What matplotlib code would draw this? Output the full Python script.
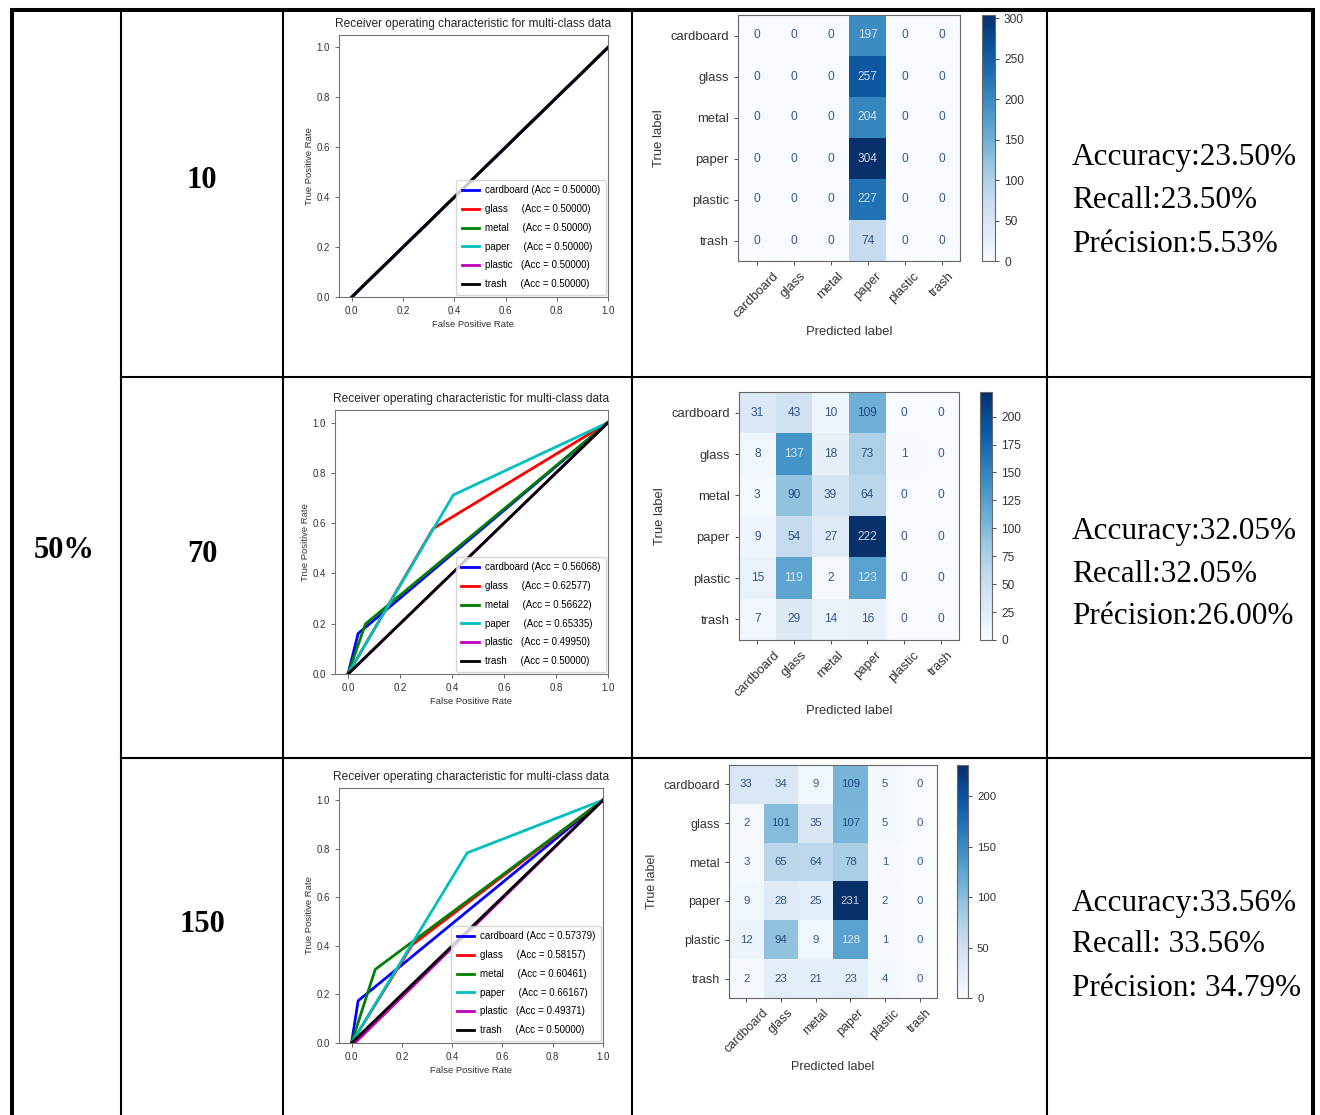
import matplotlib.pyplot as plt
import numpy as np

W, H = 1320, 1115
SANS = ["Liberation Sans", "DejaVu Sans"]
SERIF = ["Liberation Serif", "DejaVu Serif"]

classes = ["cardboard", "glass", "metal", "paper", "plastic", "trash"]
roc_colors = ["blue", "red", "green", "c", "m", "black"]
split_label = "50%"
epochs = ["10", "70", "150"]

# confusion matrices (rows = true label, cols = predicted label)
cm10 = [[0, 0, 0, 197, 0, 0],
        [0, 0, 0, 257, 0, 0],
        [0, 0, 0, 204, 0, 0],
        [0, 0, 0, 304, 0, 0],
        [0, 0, 0, 227, 0, 0],
        [0, 0, 0, 74, 0, 0]]
cm70 = [[31, 43, 10, 109, 0, 0],
        [8, 137, 18, 73, 1, 0],
        [3, 90, 39, 64, 0, 0],
        [9, 54, 27, 222, 0, 0],
        [15, 119, 2, 123, 0, 0],
        [7, 29, 14, 16, 0, 0]]
cm150 = [[33, 34, 9, 109, 5, 0],
         [2, 101, 35, 107, 5, 0],
         [3, 65, 64, 78, 1, 0],
         [9, 28, 25, 231, 2, 0],
         [12, 94, 9, 128, 1, 0],
         [2, 23, 21, 23, 4, 0]]
cbar_ticks10 = [0, 50, 100, 150, 200, 250, 300]
cbar_ticks70 = [0, 25, 50, 75, 100, 125, 150, 175, 200]
cbar_ticks150 = [0, 50, 100, 150, 200]

# ROC points per class (fpr, tpr) and areas
fpr10 = [[0, 1], [0, 1], [0, 1], [0, 1, 1], [0, 1], [0, 1]]
tpr10 = [[0, 1], [0, 1], [0, 1], [0, 1, 1], [0, 1], [0, 1]]
auc10 = [0.50000, 0.50000, 0.50000, 0.50000, 0.50000, 0.50000]

fpr70 = [[0, 0.039, 1], [0, 0.327, 1], [0, 0.067, 1],
         [0, 0.405, 1], [0, 0.001, 1], [0, 1]]
tpr70 = [[0, 0.161, 1], [0, 0.578, 1], [0, 0.199, 1],
         [0, 0.712, 1], [0, 0.0, 1], [0, 1]]
auc70 = [0.56068, 0.62577, 0.56622, 0.65335, 0.49950, 0.50000]

fpr150 = [[0, 0.026, 1], [0, 0.241, 1], [0, 0.094, 1],
          [0, 0.460, 1], [0, 0.017, 1], [0, 1]]
tpr150 = [[0, 0.174, 1], [0, 0.404, 1], [0, 0.303, 1],
          [0, 0.783, 1], [0, 0.004, 1], [0, 1]]
auc150 = [0.57379, 0.58157, 0.60461, 0.66167, 0.49371, 0.50000]

metrics10 = ["Accuracy:23.50%", "Recall:23.50%", "Précision:5.53%"]
metrics70 = ["Accuracy:32.05%", "Recall:32.05%", "Précision:26.00%"]
metrics150 = ["Accuracy:33.56%", "Recall: 33.56%", "Précision: 34.79%"]

rows = [
    (cm10, cbar_ticks10, fpr10, tpr10, auc10, metrics10),
    (cm70, cbar_ticks70, fpr70, tpr70, auc70, metrics70),
    (cm150, cbar_ticks150, fpr150, tpr150, auc150, metrics150),
]

# pixel boxes (left, top, right, bottom)
roc_box = [(339, 35, 608, 297), (335, 410, 608, 674), (339, 788, 603, 1043)]
cm_box = [(738, 15, 960, 261), (739, 392, 959, 640), (729, 765, 937, 998)]
cb_box = [(982, 15, 995, 261), (980, 392, 992, 640), (957, 765, 968, 998)]
cm_font = [9.4, 9.4, 9.0]
epoch_y = [180, 554, 925]
metric_y = [[158, 200, 244], [532, 574, 617], [903, 945, 989]]

fig = plt.figure(figsize=(W / 100, H / 100), dpi=100)


def px_axes(l, t, r, b):
    return fig.add_axes([l / W, 1 - b / H, (r - l) / W, (b - t) / H])


# table grid
bg = fig.add_axes([0, 0, 1, 1])
bg.set_xlim(0, W)
bg.set_ylim(H, 0)
bg.axis("off")
thick, thin = 2.9, 1.5
bg.plot([10, 1315], [10, 10], color="black", lw=thick, solid_capstyle="butt")
bg.plot([12, 12], [10, H], color="black", lw=thick)
bg.plot([1313, 1313], [10, H], color="black", lw=thick)
for x in [121, 283, 632, 1047]:
    bg.plot([x, x], [10, H], color="black", lw=thin)
for y in [377, 758]:
    bg.plot([121, 1313], [y, y], color="black", lw=thin)

bg.text(64, 551, split_label, ha="center", va="center", fontsize=22,
        fontweight="bold", family=SERIF)
for i, ep in enumerate(epochs):
    bg.text(202, epoch_y[i], ep, ha="center", va="center", fontsize=22,
            fontweight="bold", family=SERIF)
    for j, line in enumerate(rows[i][5]):
        bg.text(1072, metric_y[i][j], line, ha="left", va="center",
                fontsize=22.5, family=SERIF)

for i, (cm, cticks, fpr, tpr, auc, _) in enumerate(rows):
    # ROC panel
    ax = px_axes(*roc_box[i])
    for k in range(len(classes)):
        ax.plot(fpr[k], tpr[k], color=roc_colors[k], lw=2,
                label=f"{classes[k]:<9} (Acc = {auc[k]:0.5f})")
    ax.set_xlim(-0.05, 1.0)
    ax.set_ylim(0.0, 1.05)
    ax.set_xticks([0, 0.2, 0.4, 0.6, 0.8, 1.0])
    ax.set_yticks([0, 0.2, 0.4, 0.6, 0.8, 1.0])
    ax.tick_params(labelsize=7, length=3, width=0.7, color="0.4", labelcolor="0.2")
    for lab in ax.get_xticklabels() + ax.get_yticklabels():
        lab.set_family(SANS)
    for sp in ax.spines.values():
        sp.set_color("0.45")
    ax.set_xlabel("False Positive Rate", fontsize=6.8, family=SANS, color="0.2", labelpad=3)
    ax.set_ylabel("True Positive Rate", fontsize=6.8, family=SANS, color="0.2", labelpad=1.5)
    ax.set_title("Receiver operating characteristic for multi-class data",
                 fontsize=8.6, family=SANS, color="0.15", pad=6)
    ax.legend(loc="lower right", prop={"family": SANS, "size": 7},
              handlelength=1.8, handletextpad=0.6, labelspacing=0.9,
              borderpad=0.55, borderaxespad=0.25)

    # confusion matrix panel
    data = np.array(cm)
    cax = px_axes(*cm_box[i])
    im = cax.imshow(data, cmap="Blues", vmin=0, vmax=data.max(), aspect="auto")
    thresh = data.max() / 2
    for r in range(6):
        for c in range(6):
            col = im.cmap(0.0) if data[r, c] >= thresh else im.cmap(1.0)
            cax.text(c, r, str(data[r, c]), ha="center", va="center",
                     color=col, fontsize=cm_font[i] - 0.8, family=SANS, alpha=0.8)
    cax.set_xticks(range(6))
    cax.set_yticks(range(6))
    cax.set_xticklabels(classes, rotation=45, ha="center", family=SANS,
                        fontsize=cm_font[i], color="0.2")
    cax.set_yticklabels(classes, family=SANS, fontsize=cm_font[i], color="0.2")
    cax.tick_params(length=3, width=0.7, color="0.3")
    for sp in cax.spines.values():
        sp.set_color("0.4")
    cax.set_xlabel("Predicted label", family=SANS, fontsize=cm_font[i], color="0.2")
    cax.set_ylabel("True label", family=SANS, fontsize=cm_font[i], color="0.2")

    bax = px_axes(*cb_box[i])
    cb = fig.colorbar(im, cax=bax, ticks=cticks)
    cb.ax.tick_params(labelsize=cm_font[i] - 0.8, length=3, width=0.7, color="0.3",
                      labelcolor="0.2")
    for lab in cb.ax.get_yticklabels():
        lab.set_family(SANS)
    cb.outline.set_edgecolor("0.4")

fig.savefig("out.png", dpi=100)
